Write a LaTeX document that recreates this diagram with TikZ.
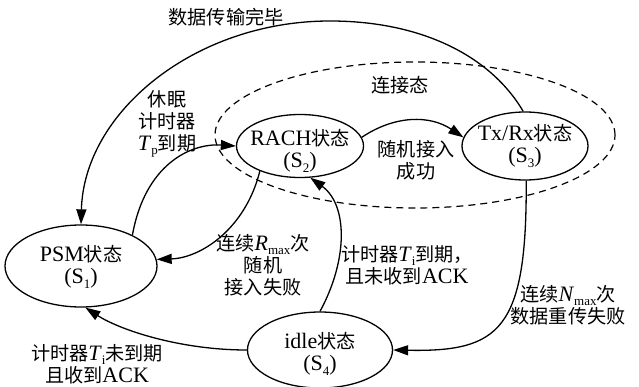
\documentclass[tikz,border=0pt]{standalone}
\usepackage{fontspec}
\setmainfont{Liberation Serif}
\newfontfamily\cjk{Noto Sans CJK SC}[Scale=0.87]
\usetikzlibrary{arrows.meta,shapes.geometric}
\newcommand\zh[1]{{\cjk #1}}
\newcommand\sbs[1]{\raisebox{-0.45ex}{\fontsize{13}{13}\selectfont #1}}
\begin{document}
\begin{tikzpicture}[x=1pt,y=-1pt,
  font=\fontsize{22}{22}\selectfont,
  st/.style={draw, ellipse, line width=1.3pt, inner sep=0pt},
  tr/.style={line width=1.3pt, -{Triangle[length=15pt,width=10pt]}},
  lbl/.style={align=center, inner sep=0pt}]
\useasboundingbox (0,0) rectangle (639,387);
% connected-state region
\node[draw, ellipse, line width=1.2pt, dash pattern=on 7pt off 5pt,
      minimum width=400pt, minimum height=146pt, inner sep=0pt] (conn) at (415,135) {};
% states
\node[st, minimum width=152pt, minimum height=82pt] (S1) at (81,266) {};
\node[st, minimum width=127pt, minimum height=63pt] (S2) at (300,146) {};
\node[st, minimum width=126pt, minimum height=68pt] (S3) at (525,146) {};
\node[st, minimum width=145pt, minimum height=76pt] (S4) at (320,350) {};
\node[lbl] (S1t) at (81,267) {PSM\zh{状态}\\(S\sbs{1})};
\node[lbl] (S2t) at (300,151) {RACH\zh{状态}\\(S\sbs{2})};
\node[lbl] (S3t) at (525,146) {Tx/Rx\zh{状态}\\(S\sbs{3})};
\node[lbl] (S4t) at (320,354) {idle\zh{状态}\\(S\sbs{4})};
% labels
\node[lbl] (l1) at (226,17) {\zh{数据传输完毕}};
\node[lbl] (l2) at (400,85) {\zh{连接态}};
\node[lbl] (l3) at (167,124) {\zh{休眠}\\\zh{计时器}\\\textit{T}\sbs{p}\zh{到期}};
\node[lbl] (l4) at (416,160) {\zh{随机接入}\\\zh{成功}};
\node[lbl] (l5) at (263,265) {\zh{连续}\textit{R}\sbs{max}\zh{次}\\\zh{随机}\\\zh{接入失败}};
\node[lbl] (l6) at (407,265) {\zh{计时器}\textit{T}\sbs{i}\zh{到期，}\\\zh{且未收到}ACK};
\node[lbl] (l7) at (568,305) {\zh{连续}\textit{N}\sbs{max}\zh{次}\\\zh{数据重传失败}};
\node[lbl] (l8) at (97,364) {\zh{计时器}\textit{T}\sbs{i}\zh{未到期}\\\zh{且收到}ACK};
% transitions
\draw[tr] (S3.93) .. controls (490,55) and (420,21) .. (330,21)
          .. controls (195,21) and (84,112) .. (S1.north);
\draw[tr] (S1.31) .. controls (145,165) and (190,143) .. (S2.west);
\draw[tr] (S2.212) .. controls (245,230) and (200,258) .. (S1.5);
\draw[tr] (S4.north) .. controls (348,260) and (348,205) .. (S2.288);
\draw[tr] (S2.8) .. controls (395,115) and (430,115) .. (S3.172);
\draw[tr] (S3.272) .. controls (527,330) and (500,352) .. (S4.east);
\draw[tr] (S4.west) .. controls (180,350) and (120,330) .. (S1.276);
\end{tikzpicture}
\end{document}
